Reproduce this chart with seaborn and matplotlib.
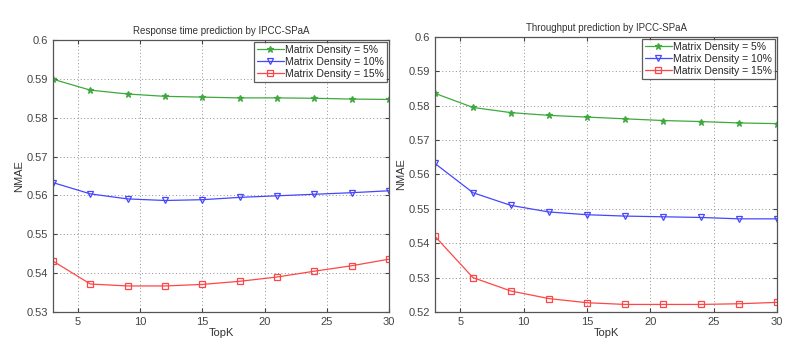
import pandas as pd
import seaborn as sns
import matplotlib
matplotlib.use("Agg")
import matplotlib.pyplot as plt

# TopK values on the x axis
topk = [3, 6, 9, 12, 15, 18, 21, 24, 27, 30]

# Response time NMAE (left panel)
rt_5 = [0.5899, 0.5871, 0.5861, 0.5855, 0.5853, 0.5851, 0.5851, 0.5850, 0.5848, 0.5847]
rt_10 = [0.5633, 0.5604, 0.5591, 0.5587, 0.5589, 0.5595, 0.5599, 0.5603, 0.5607, 0.5612]
rt_15 = [0.5431, 0.5372, 0.5367, 0.5367, 0.5371, 0.5379, 0.5390, 0.5405, 0.5419, 0.5436]

# Throughput NMAE (right panel)
tp_5 = [0.5836, 0.5795, 0.5780, 0.5772, 0.5767, 0.5762, 0.5757, 0.5754, 0.5750, 0.5748]
tp_10 = [0.5632, 0.5547, 0.5510, 0.5491, 0.5483, 0.5479, 0.5477, 0.5475, 0.5471, 0.5471]
tp_15 = [0.5420, 0.5300, 0.5261, 0.5239, 0.5227, 0.5222, 0.5222, 0.5222, 0.5224, 0.5228]

labels = ["Matrix Density = 5%", "Matrix Density = 10%", "Matrix Density = 15%"]
colors = ["#3fa83f", "#4646ff", "#ff4646"]
markers = ["*", "v", "s"]

sns.set_style("white")
plt.rcParams["font.family"] = ["Liberation Sans", "DejaVu Sans"]

fig = plt.figure(figsize=(8.1, 3.54), dpi=100)
ax1 = fig.add_axes([53 / 810, 1 - 312 / 354, 336 / 810, 272 / 354])
ax2 = fig.add_axes([435 / 810, 1 - 312 / 354, 342 / 810, 275 / 354])


def draw(ax, series, title, ylim, yticks):
    for vals, lab, col, mk in zip(series, labels, colors, markers):
        df = pd.DataFrame({"TopK": topk, "NMAE": vals})
        sns.lineplot(data=df, x="TopK", y="NMAE", ax=ax, color=col, lw=0.9,
                     marker=mk, markersize=5,
                     mfc=col if mk == "*" else "none", mec=col, mew=0.9,
                     label=lab)
    ax.set_xlim(3, 30)
    ax.set_ylim(*ylim)
    ax.set_xticks([5, 10, 15, 20, 25, 30])
    ax.set_yticks(yticks)
    ax.set_yticklabels([("%g" % t) for t in yticks])
    ax.grid(True, color="#909090", ls=(0, (1, 2.5)), lw=0.7)
    for s in ax.spines.values():
        s.set_color("#555555")
        s.set_linewidth(0.9)
    ax.tick_params(direction="in", length=3, labelsize=8, colors="#444444",
                   top=True, right=True, bottom=True, left=True)
    ax.set_title(title, fontsize=7, color="#333333", pad=4)
    ax.set_xlabel("TopK", fontsize=8, color="#333333", labelpad=1)
    ax.set_ylabel("NMAE", fontsize=8, color="#333333", labelpad=2)
    leg = ax.legend(loc="upper right", fontsize=7.5, frameon=True, fancybox=False,
                    borderpad=0.3, labelspacing=0.2, handlelength=2.6,
                    handletextpad=0.15, borderaxespad=0.15)
    leg.get_frame().set_edgecolor("#333333")
    leg.get_frame().set_linewidth(0.9)


draw(ax1, [rt_5, rt_10, rt_15], "Response time prediction by IPCC-SPaA",
     (0.53, 0.60), [0.53, 0.54, 0.55, 0.56, 0.57, 0.58, 0.59, 0.60])
draw(ax2, [tp_5, tp_10, tp_15], "Throughput prediction by IPCC-SPaA",
     (0.52, 0.60), [0.52, 0.53, 0.54, 0.55, 0.56, 0.57, 0.58, 0.59, 0.60])

fig.savefig("out.png", dpi=100)
